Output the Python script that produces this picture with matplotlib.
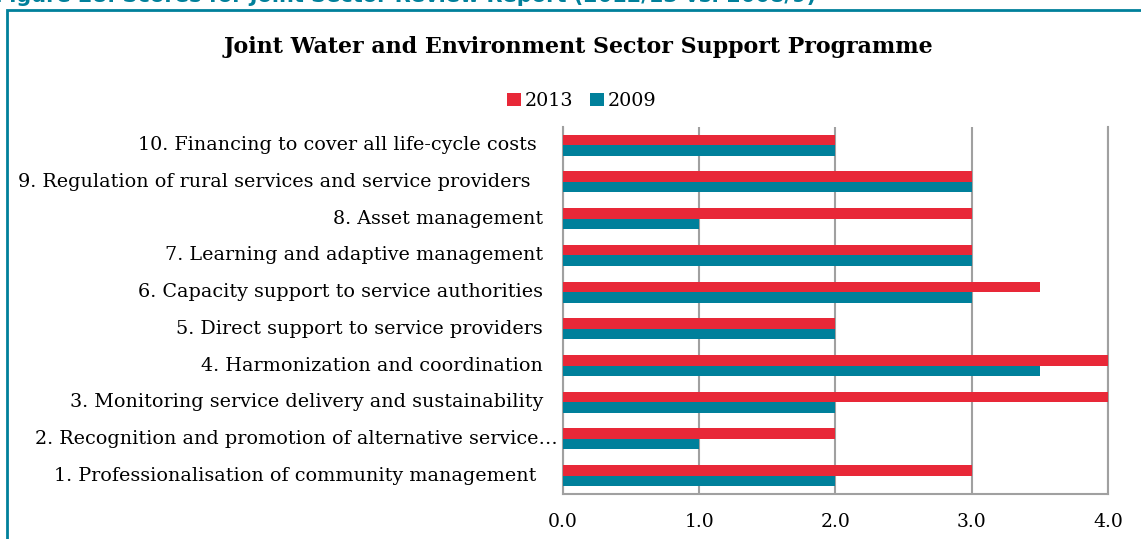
import matplotlib.pyplot as plt
from matplotlib.patches import Rectangle
from matplotlib.transforms import blended_transform_factory
import numpy as np

# scores per criterion, bottom to top
criteria = [
    '1. Professionalisation of community management ',
    '2. Recognition and promotion of alternative service\u2026',
    '3. Monitoring service delivery and sustainability',
    '4. Harmonization and coordination',
    '5. Direct support to service providers',
    '6. Capacity support to service authorities',
    '7. Learning and adaptive management',
    '8. Asset management',
    '9. Regulation of rural services and service providers  ',
    '10. Financing to cover all life-cycle costs ',
]
scores_2013 = [3, 2, 4, 4, 2, 3.5, 3, 3, 3, 2]
scores_2009 = [2, 1, 2, 3.5, 2, 3, 3, 1, 3, 2]
xticks = [0, 1, 2, 3, 4]

red = '#E82838'
teal = '#00809B'
grey = '#A0A0A0'

plt.rcParams['font.family'] = ['DejaVu Serif']

fig = plt.figure(figsize=(11.41, 5.39), dpi=100)
ax = fig.add_axes([0.4934, 0.0835, 0.4777, 0.681])

y = np.arange(len(criteria))
h = 0.286
ax.barh(y + h / 2, scores_2013, height=h, color=red, label='2013', zorder=3)
ax.barh(y - h / 2, scores_2009, height=h, color=teal, label='2009', zorder=3)

ax.set_xlim(0, 4)
ax.set_ylim(-0.5, 9.5)
ax.set_xticks(xticks)
ax.set_xticklabels(['%.1f' % v for v in xticks], fontsize=13.5)
ax.tick_params(axis='x', length=0, pad=14)
ax.set_yticks([])
ax.grid(axis='x', color=grey, linewidth=1.5, zorder=0)
ax.spines['top'].set_visible(False)
for s in ['left', 'bottom', 'right']:
    ax.spines[s].set_color(grey)
    ax.spines[s].set_linewidth(1.5)

# category labels, right aligned next to the axis
trans = blended_transform_factory(ax.transAxes, ax.transData)
for i, lab in enumerate(criteria):
    xoff = -0.009 if i == 1 else -0.037
    ax.text(xoff, y[i], lab, transform=trans, ha='right', va='center', fontsize=13.8)

fig.text(0.507, 0.912, 'Joint Water and Environment Sector Support Programme',
         ha='center', va='center', fontsize=15.9, fontweight='bold')

fig.legend(loc='center', bbox_to_anchor=(0.51, 0.812), ncol=2, frameon=False,
           fontsize=13.8, handlelength=0.7, handleheight=0.7, handletextpad=0.2,
           columnspacing=0.9)

# frame and caption from the report page
fig.patches.append(Rectangle((7 / 1141, -0.1), 1.2, 1 - 10 / 539 + 0.1,
                             transform=fig.transFigure, fill=False,
                             edgecolor=teal, linewidth=2, clip_on=False))
fig.text(-0.004, 1 - 2 / 539,
         'Figure 28: Scores for Joint Sector Review Report (2012/13 vs. 2008/9)',
         ha='left', va='baseline', fontsize=15, fontweight='bold', color=teal,
         family=['DejaVu Sans'])

fig.savefig('out.png', dpi=100)
